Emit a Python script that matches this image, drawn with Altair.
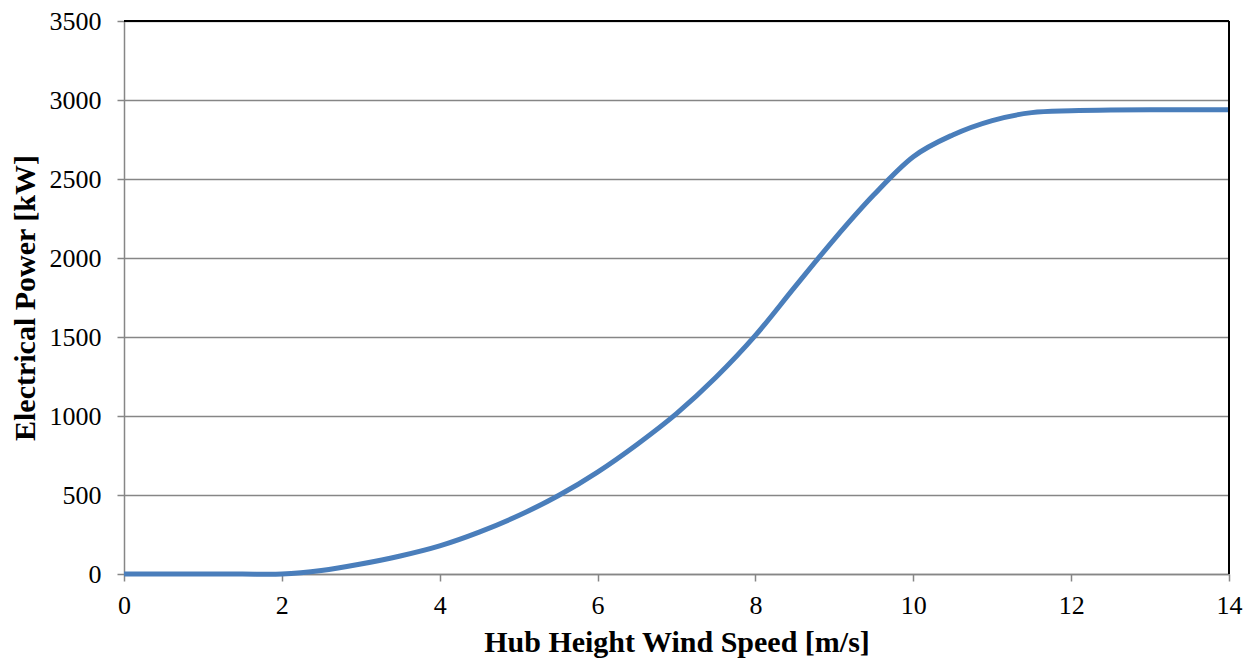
import altair as alt
import pandas as pd

speed = [0, 0.5, 1, 1.5, 2, 2.5, 3, 3.5, 4, 4.5, 5, 5.5, 6, 6.5, 7, 7.5, 8, 8.5, 9, 9.5,
         10, 10.5, 11, 11.5, 12, 12.5, 13, 13.5, 14]
power = [0, 0, 0, 0, 0, 22, 63, 114, 178, 265, 370, 495, 645, 820, 1015, 1245, 1510, 1817, 2120, 2400,
         2641, 2779, 2870, 2920, 2932, 2937, 2938, 2938, 2938]

df = pd.DataFrame({"speed": speed, "power": power})

W, H = 1105, 553
GRAY = "#868686"
FONT = "Liberation Serif"

line = alt.Chart(df).mark_line(color="#4a7ebb", strokeWidth=5, interpolate="cardinal").encode(
    x=alt.X("speed:Q", scale=alt.Scale(domain=[0, 14], nice=False),
            axis=alt.Axis(title="Hub Height Wind Speed [m/s]", values=list(range(0, 15, 2)),
                          format="d", labelFlush=False,
                          grid=False, domainColor=GRAY, domainWidth=1.5, tickColor=GRAY,
                          tickSize=7, tickWidth=1.5, labelPadding=11, labelFontSize=26,
                          labelFont=FONT, labelColor="black", titleFont=FONT, titleFontSize=30,
                          titleFontWeight="bold", titleColor="black", titlePadding=9)),
    y=alt.Y("power:Q", scale=alt.Scale(domain=[0, 3500], nice=False),
            axis=alt.Axis(title="Electrical Power [kW]", values=list(range(0, 3501, 500)),
                          format="d", labelFlush=False,
                          grid=True, gridColor=GRAY, gridWidth=1.5, domainColor=GRAY,
                          domainWidth=1.5, tickColor=GRAY, tickSize=7, tickWidth=1.5,
                          labelPadding=16, labelFontSize=26, labelFont=FONT, labelColor="black",
                          titleFont=FONT, titleFontSize=30, titleFontWeight="bold",
                          titleColor="black", titlePadding=9)),
)

border_top = alt.Chart(df).mark_rule(color="black", strokeWidth=1.5).encode(
    x=alt.value(0), x2=alt.value(W), y=alt.value(0))
border_right = alt.Chart(df).mark_rule(color="black", strokeWidth=1.5).encode(
    x=alt.value(W), y=alt.value(0), y2=alt.value(H))

chart = alt.layer(line, border_top, border_right).properties(
    width=W, height=H,
    autosize=alt.AutoSizeParams(type="none"),
    padding={"left": 116, "top": 13, "right": 20, "bottom": 90},
).configure_view(stroke=None)

chart.save("out.html", embed_options={"renderer": "svg", "actions": False})
